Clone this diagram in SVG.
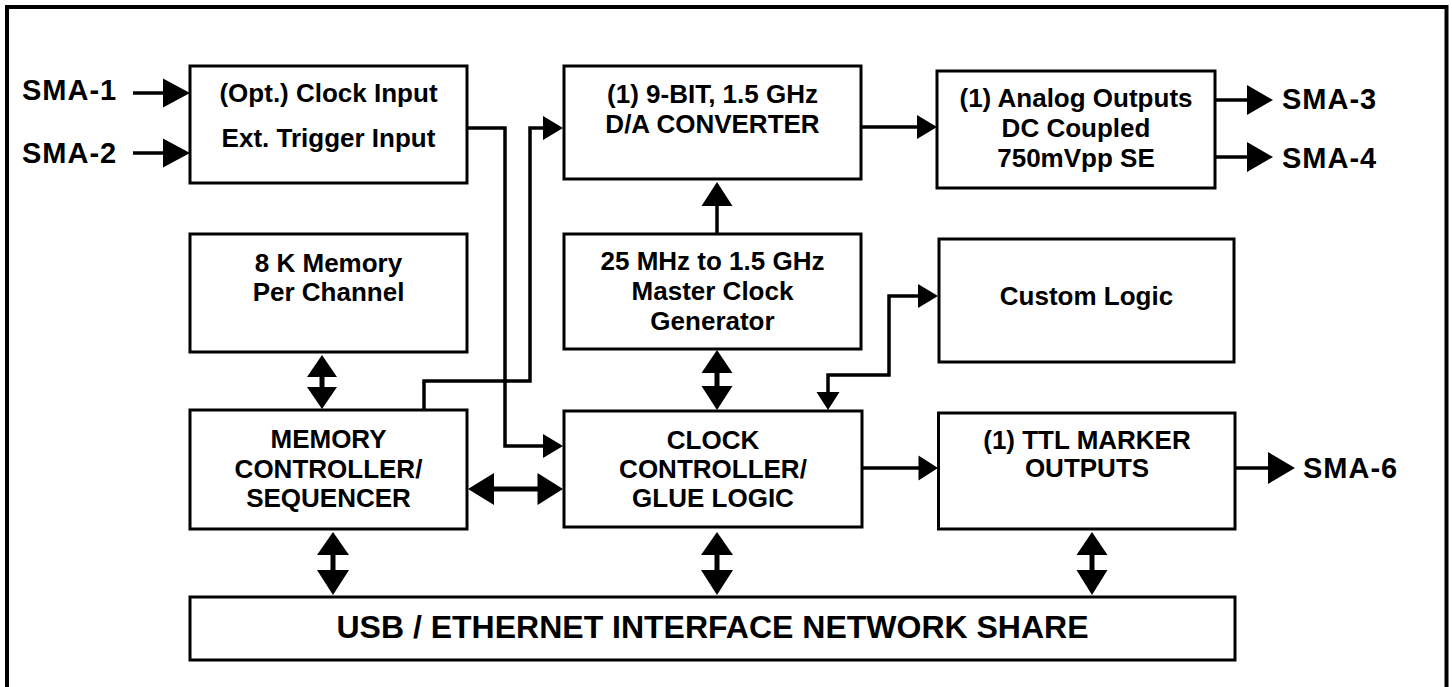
<svg xmlns="http://www.w3.org/2000/svg" width="1452" height="687" viewBox="0 0 1452 687">
<style>
.box{fill:#fff;stroke:#000;stroke-width:3}
.t{font-family:"Liberation Sans",Arial,sans-serif;font-weight:bold;font-size:26px;text-anchor:middle;fill:#000}
.sma{font-family:"Liberation Sans",Arial,sans-serif;font-weight:bold;font-size:29px;letter-spacing:1px;fill:#000}
.usb{font-family:"Liberation Sans",Arial,sans-serif;font-weight:bold;font-size:32px;text-anchor:middle;fill:#000}
.ln{fill:none;stroke:#000;stroke-width:3.5}
.sh{fill:none;stroke:#000;stroke-width:5}
.hd{fill:#000;stroke:none}
</style>
<rect x="0" y="0" width="1452" height="687" fill="#fff"/>
<path d="M7,690 V7 H1446.5 V690" fill="none" stroke="#000" stroke-width="4"/>

<g id="clock-input">
<rect class="box" x="190" y="66" width="277" height="117"/>
<text class="t" x="328.5" y="102">(Opt.) Clock Input</text>
<text class="t" x="328.5" y="147">Ext. Trigger Input</text>
</g>
<g id="dac">
<rect class="box" x="564" y="66" width="297" height="113"/>
<text class="t" x="712.5" y="103">(1) 9-BIT, 1.5 GHz</text>
<text class="t" x="712.5" y="133">D/A CONVERTER</text>
</g>
<g id="analog-outputs">
<rect class="box" x="937" y="71" width="278" height="117"/>
<text class="t" x="1076" y="107">(1) Analog Outputs</text>
<text class="t" x="1076" y="137">DC Coupled</text>
<text class="t" x="1076" y="167">750mVpp SE</text>
</g>
<g id="memory">
<rect class="box" x="190" y="234" width="277" height="118"/>
<text class="t" x="328.5" y="272">8 K Memory</text>
<text class="t" x="328.5" y="301">Per Channel</text>
</g>
<g id="master-clock">
<rect class="box" x="564" y="234" width="297" height="115"/>
<text class="t" x="712.5" y="270">25 MHz to 1.5 GHz</text>
<text class="t" x="712.5" y="300">Master Clock</text>
<text class="t" x="712.5" y="330">Generator</text>
</g>
<g id="custom-logic">
<rect class="box" x="939" y="239" width="295" height="123"/>
<text class="t" x="1086.5" y="305">Custom Logic</text>
</g>
<g id="memory-controller">
<rect class="box" x="190" y="410" width="277" height="119"/>
<text class="t" x="328.5" y="448">MEMORY</text>
<text class="t" x="328.5" y="478">CONTROLLER/</text>
<text class="t" x="328.5" y="507">SEQUENCER</text>
</g>
<g id="clock-controller">
<rect class="box" x="564" y="411" width="298" height="116"/>
<text class="t" x="713" y="449">CLOCK</text>
<text class="t" x="713" y="478">CONTROLLER/</text>
<text class="t" x="713" y="507">GLUE LOGIC</text>
</g>
<g id="ttl-marker">
<rect class="box" x="938.5" y="413" width="296.5" height="116"/>
<text class="t" x="1087" y="449">(1) TTL MARKER</text>
<text class="t" x="1087" y="477">OUTPUTS</text>
</g>
<g id="usb">
<rect class="box" x="190" y="597" width="1045" height="63"/>
<text class="usb" x="712.5" y="638">USB / ETHERNET INTERFACE NETWORK SHARE</text>
</g>
<g id="labels">
<text class="sma" x="22" y="100">SMA-1</text>
<text class="sma" x="22" y="163">SMA-2</text>
<text class="sma" x="1282" y="109">SMA-3</text>
<text class="sma" x="1282" y="168">SMA-4</text>
<text class="sma" x="1303" y="478">SMA-6</text>
</g>

<g id="connectors">
<path class="ln" d="M133,93 H165"/>
<polygon class="hd" points="163,78.5 190,93 163,107.5"/>
<path class="ln" d="M133,153 H165"/>
<polygon class="hd" points="163,138.5 190,153 163,167.5"/>

<path class="ln" d="M467,128 H505 V446 H545"/>
<polygon class="hd" points="543,434 563,446 543,458"/>

<path class="ln" d="M424,410 V381 H530 V128 H545"/>
<polygon class="hd" points="543,116 563,128 543,140"/>

<path class="ln" d="M861,127 H919"/>
<polygon class="hd" points="917,115 937,127 917,139"/>

<path class="ln" d="M717,234 V204"/>
<polygon class="hd" points="701.5,206 717,182 732.5,206"/>

<path class="ln" d="M1215,100 H1249"/>
<polygon class="hd" points="1247,85 1273,100 1247,115"/>
<path class="ln" d="M1215,157 H1249"/>
<polygon class="hd" points="1247,142 1273,157 1247,172"/>

<path class="sh" d="M322,375 V389"/>
<polygon class="hd" points="307,377 322,355 337,377"/>
<polygon class="hd" points="307,387 322,409 337,387"/>

<path class="sh" d="M717,371 V388"/>
<polygon class="hd" points="701.5,373 717,350 732.5,373"/>
<polygon class="hd" points="701.5,386 717,410 732.5,386"/>

<path class="ln" d="M828,394 V375 H889 V296 H920"/>
<polygon class="hd" points="918,284 938,296 918,308"/>
<polygon class="hd" points="816.5,392 828,410 839.5,392"/>

<path class="sh" d="M492,489 H540"/>
<polygon class="hd" points="494,473 468,489 494,505"/>
<polygon class="hd" points="537.5,473 563,489 537.5,505"/>

<path class="ln" d="M862,468 H920"/>
<polygon class="hd" points="918.5,455.5 938,468 918.5,480.5"/>

<path class="ln" d="M1235,468 H1270"/>
<polygon class="hd" points="1268,452 1295,468 1268,484"/>

<path class="sh" d="M333,553 V572"/>
<polygon class="hd" points="317,555 333,532 349,555"/>
<polygon class="hd" points="317,570 333,595 349,570"/>

<path class="sh" d="M717,553 V572"/>
<polygon class="hd" points="701,555 717,532 733,555"/>
<polygon class="hd" points="701,570 717,595 733,570"/>

<path class="sh" d="M1092,553 V572"/>
<polygon class="hd" points="1076.5,555 1092,532 1107.5,555"/>
<polygon class="hd" points="1076.5,570 1092,595 1107.5,570"/>
</g>
</svg>
